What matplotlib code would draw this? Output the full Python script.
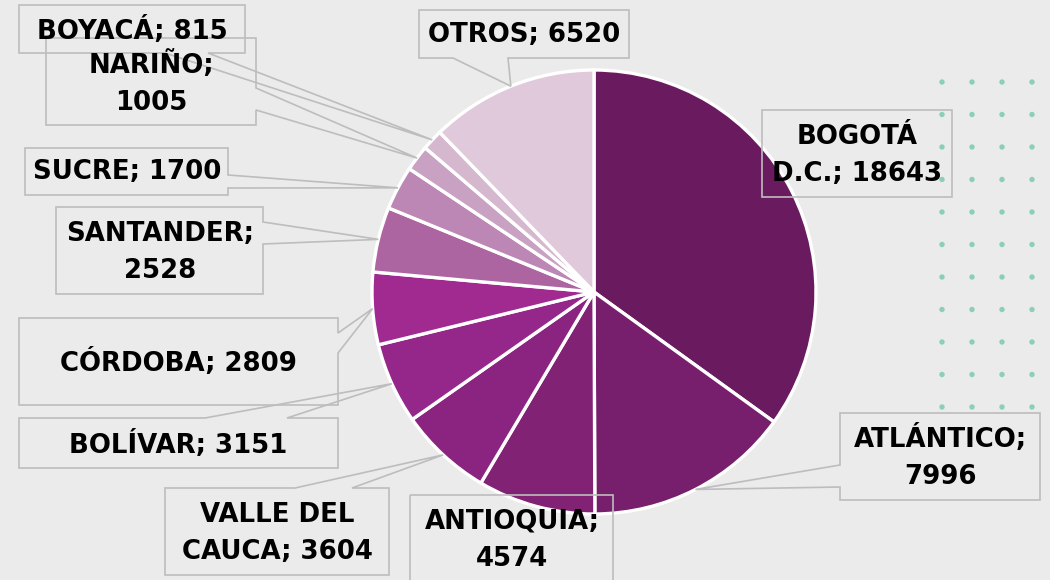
import numpy as np
import matplotlib
matplotlib.use("Agg")
import matplotlib.pyplot as plt
from matplotlib.patches import Polygon

# ---------------- data ----------------
categories = ["BOGOTÁ D.C.", "ATLÁNTICO", "ANTIOQUIA", "VALLE DEL CAUCA", "BOLÍVAR",
              "CÓRDOBA", "SANTANDER", "SUCRE", "NARIÑO", "BOYACÁ", "OTROS"]
values = [18643, 7996, 4574, 3604, 3151, 2809, 2528, 1700, 1005, 815, 6520]
colors = ["#6A1A5F", "#771E6D", "#812274", "#8B2480", "#95278A", "#A02A90",
          "#AD65A2", "#BC87B4", "#C9A2C3", "#D5B7CE", "#E0C9DB"]

# ---------------- layout (pixel coords, y down) ----------------
W, H = 1050, 580
CX, CY, R = 594, 292, 222
# box (x0, y0, x1, y1), text centre, break-at-space index, pointer (side, a, b)
layout = {
    "BOGOTÁ D.C.":     ((762, 110, 952, 197), (857, 155), 1, None),
    "ATLÁNTICO":       ((840, 413, 1040, 500), (940, 458), 1, ("left", 465, 487)),
    "ANTIOQUIA":       ((410, 495, 613, 590), (512, 540), 1, None),
    "VALLE DEL CAUCA": ((165, 488, 389, 575), (277, 533), 2, ("top", 295, 352)),
    "BOLÍVAR":         ((19, 418, 338, 468), (178, 445), 0, ("top", 205, 287)),
    "CÓRDOBA":         ((19, 318, 338, 405), (178, 363), 0, ("right", 333, 353)),
    "SANTANDER":       ((56, 207, 263, 294), (160, 252), 1, ("right", 222, 244)),
    "SUCRE":           ((25, 148, 228, 195), (127, 172), 0, ("right", 175, 188)),
    "NARIÑO":          ((46, 38, 256, 125), (151, 84), 1, ("right", 88, 110)),
    "BOYACÁ":          ((19, 5, 245, 53), (132, 31), 0, ("bottom", 165, 208)),
    "OTROS":           ((419, 10, 629, 58), (524, 35), 0, ("bottom", 453, 508)),
}

def Y(y):
    return H - y

fig = plt.figure(figsize=(10.5, 5.8), dpi=100)
fig.patch.set_facecolor("#EBEBEB")
ax = fig.add_axes([0, 0, 1, 1])
ax.set_facecolor("#EBEBEB")

# decorative dot grid on the right
for yy in np.arange(82, 410, 32.5):
    for xx in (942, 972, 1002, 1032):
        ax.scatter(xx, Y(yy), s=15, color="#8ACFB6", edgecolors="none", zorder=1)

wedges, _ = ax.pie(values, colors=colors, startangle=90, counterclock=False,
                   radius=R, center=(CX, Y(CY)),
                   wedgeprops=dict(edgecolor="white", linewidth=2.4))
for w in wedges:
    w.set_zorder(2)

def make_label(name, value, brk):
    s = f"{name}; {value}"
    if brk:
        parts = s.split(" ")
        s = " ".join(parts[:brk]) + "\n" + " ".join(parts[brk:])
    return s

for name, value, w in zip(categories, values, wedges):
    (x0, y0, x1, y1), (tx, ty), brk, ptr = layout[name]
    mid = np.deg2rad((w.theta1 + w.theta2) / 2)
    cx, cy = w.center
    anchor = (cx + w.r * np.cos(mid), cy + w.r * np.sin(mid))
    verts = [(x0, Y(y0))]
    if ptr and ptr[0] == "top":
        verts += [(ptr[1], Y(y0)), anchor, (ptr[2], Y(y0))]
    verts.append((x1, Y(y0)))
    if ptr and ptr[0] == "right":
        verts += [(x1, Y(ptr[1])), anchor, (x1, Y(ptr[2]))]
    verts.append((x1, Y(y1)))
    if ptr and ptr[0] == "bottom":
        verts += [(ptr[2], Y(y1)), anchor, (ptr[1], Y(y1))]
    verts.append((x0, Y(y1)))
    if ptr and ptr[0] == "left":
        verts += [(x0, Y(ptr[2])), anchor, (x0, Y(ptr[1]))]
    poly = Polygon(verts, closed=True, facecolor="none", edgecolor="#BDBDBD",
                   linewidth=1.2, zorder=3)
    ax.add_patch(poly)
    ax.text(tx, Y(ty), make_label(name, value, brk), ha="center", va="center",
            fontsize=18.7, fontweight="bold", family="DejaVu Sans", color="black",
            linespacing=1.55, zorder=4)

ax.set_xlim(0, W)
ax.set_ylim(0, H)
ax.set_aspect("auto")
ax.axis("off")
fig.savefig("out.png", dpi=100, facecolor=fig.get_facecolor())
